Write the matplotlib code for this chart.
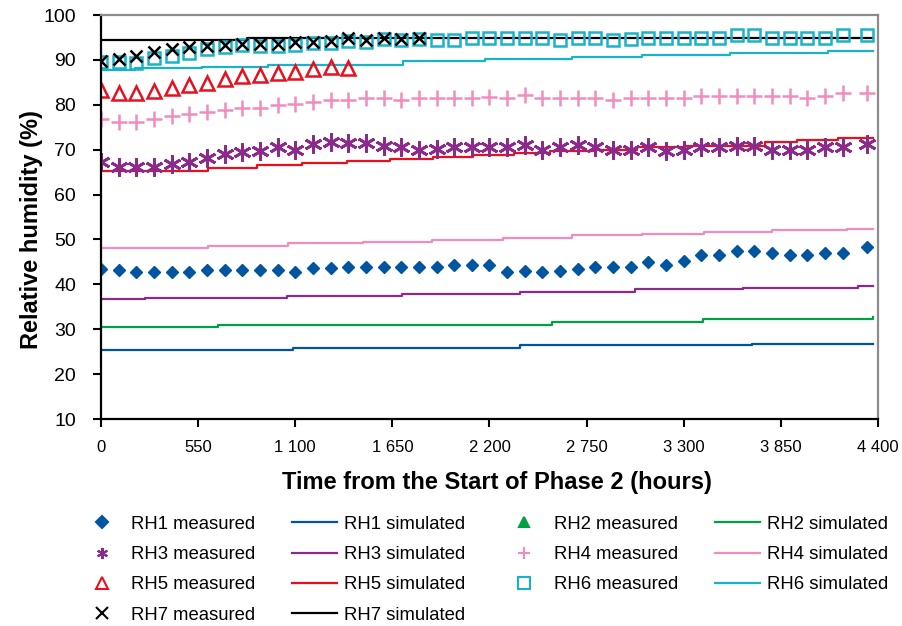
import matplotlib
matplotlib.use('Agg')
import matplotlib.pyplot as plt
from matplotlib.lines import Line2D

plt.rcParams['font.family'] = ['Liberation Sans', 'DejaVu Sans']

# measured readings (hours, % RH)
t_meas = [0, 100, 200, 300, 400, 500, 600, 700, 800, 900, 1000, 1100, 1200, 1300,
          1400, 1500, 1600, 1700, 1800, 1900, 2000, 2100, 2200, 2300, 2400, 2500,
          2600, 2700, 2800, 2900, 3000, 3100, 3200, 3300, 3400, 3500, 3600, 3700,
          3800, 3900, 4000, 4100, 4200, 4340]
rh1_meas = [43.5, 43.2, 42.7, 42.7, 42.7, 42.7, 43.2, 43.2, 43.2, 43.2, 43.2, 42.7, 43.6, 43.6,
            43.9, 43.9, 43.9, 43.9, 43.9, 43.9, 44.3, 44.3, 44.4, 42.7, 42.9, 42.7,
            42.9, 43.5, 43.9, 43.9, 43.9, 44.9, 44.4, 45.3, 46.5, 46.5, 47.4, 47.4,
            46.9, 46.5, 46.5, 47.0, 47.0, 48.3]
rh2_meas = []
rh3_meas = [67.3, 66.2, 66.2, 66.2, 66.75, 67.3, 68.1, 69.0, 69.4, 69.7, 70.5, 69.95, 71.2, 71.65,
            71.4, 71.4, 70.9, 70.5, 69.95, 70.2, 70.5, 70.5, 70.5, 70.5, 71.05, 69.95,
            70.5, 71.05, 70.5, 69.95, 69.95, 70.5, 69.6, 69.95, 70.5, 70.5, 70.9, 70.9,
            69.95, 69.95, 69.95, 70.5, 70.5, 71.2]
rh4_meas = [76.8, 76.25, 76.25, 76.8, 77.4, 77.9, 78.3, 78.85, 79.2, 79.2, 80.0, 80.2, 80.7, 81.1,
            81.1, 81.6, 81.6, 81.1, 81.6, 81.6, 81.6, 81.6, 81.7, 81.6, 82.2, 81.6,
            81.6, 81.6, 81.6, 81.1, 81.6, 81.6, 81.6, 81.6, 82.0, 82.0, 82.0, 82.0,
            82.0, 82.0, 81.6, 82.0, 82.6, 82.6]
rh5_meas = [83.2, 82.6, 82.6, 83.1, 83.7, 84.4, 84.8, 85.75, 86.3, 86.6, 87.0, 87.4, 88.0, 88.5,
            88.3]
rh6_meas = [89.6, 89.6, 89.2, 90.4, 90.9, 91.5, 92.4, 92.9, 93.3, 93.2, 93.2, 93.4, 93.7, 93.7,
            94.2, 93.9, 94.7, 94.4, 94.6, 94.4, 94.4, 94.95, 94.95, 94.95, 94.95, 94.95,
            94.4, 94.95, 94.95, 94.4, 94.6, 94.95, 94.95, 94.95, 94.95, 94.95, 95.5, 95.5,
            94.95, 94.95, 94.95, 94.95, 95.5, 95.5]
rh7_meas = [89.8, 90.1, 90.9, 91.8, 92.4, 92.8, 93.2, 93.3, 93.5, 93.5, 93.5, 94.0, 93.9, 94.1,
            94.8, 94.4, 94.8, 94.6, 94.8]

# simulated (step changes: hours, % RH)
rh1_sim_t = [0, 1090, 2370, 3685, 4370]
rh1_sim = [25.4, 25.9, 26.4, 26.8, 26.8]
rh2_sim_t = [0, 663, 2552, 3407, 4330, 4370]
rh2_sim = [30.6, 31.0, 31.5, 32.3, 32.3, 32.8]
rh3_sim_t = [0, 250, 1051, 1702, 2372, 3023, 3636, 4287, 4370]
rh3_sim = [36.7, 37.0, 37.45, 37.9, 38.4, 38.9, 39.2, 39.7, 39.7]
rh4_sim_t = [0, 606, 1059, 1484, 1873, 2277, 2666, 3064, 3414, 3797, 4222, 4370]
rh4_sim = [48.2, 48.6, 49.2, 49.5, 49.9, 50.4, 50.9, 51.3, 51.6, 52.0, 52.4, 52.4]
rh5_sim_t = [0, 606, 881, 1136, 1391, 1637, 1882, 2105, 2340, 2543, 2787, 3034, 3300, 3760,
             3940, 4174, 4370]
rh5_sim = [65.3, 66.0, 66.6, 67.0, 67.4, 67.9, 68.45, 68.75, 69.2, 69.7, 69.95, 70.5, 70.9, 71.8,
           72.2, 72.7, 72.7]
rh6_sim_t = [0, 192, 570, 946, 1710, 2174, 2666, 3062, 3562, 4119, 4370]
rh6_sim = [87.8, 88.1, 88.5, 88.9, 89.7, 90.3, 90.7, 91.1, 91.6, 92.0, 92.0]
rh7_sim_t = [0, 825, 4370]
rh7_sim = [94.4, 94.9, 94.9]

c1, c2, c3, c4 = '#0055a0', '#00a046', '#8c2a8c', '#f08cbe'
c5, c6, c7 = '#e8101e', '#1ab2c8', 'black'

fig = plt.figure(figsize=(9.03, 6.26), dpi=100)
ax = fig.add_axes([101/903, 1-419/626, 777/903, 404/626])

lw = 1.6
s1, = ax.plot(rh1_sim_t, rh1_sim, color=c1, lw=lw, drawstyle='steps-post')
s2, = ax.plot(rh2_sim_t, rh2_sim, color=c2, lw=lw, drawstyle='steps-post')
s3, = ax.plot(rh3_sim_t, rh3_sim, color=c3, lw=lw, drawstyle='steps-post')
s4, = ax.plot(rh4_sim_t, rh4_sim, color=c4, lw=lw, drawstyle='steps-post')
s5, = ax.plot(rh5_sim_t, rh5_sim, color=c5, lw=lw, drawstyle='steps-post')
s6, = ax.plot(rh6_sim_t, rh6_sim, color=c6, lw=lw, drawstyle='steps-post')
s7, = ax.plot(rh7_sim_t, rh7_sim, color=c7, lw=lw, drawstyle='steps-post')

m1, = ax.plot(t_meas, rh1_meas, ls='none', marker='D', ms=6.5, color=c1)
m2, = ax.plot(t_meas[:len(rh2_meas)], rh2_meas, ls='none', marker='^', ms=7, color=c2)
m3, = ax.plot(t_meas, rh3_meas, ls='none', marker=(6, 2, 0), ms=13, mew=2, color=c3)
m4, = ax.plot(t_meas, rh4_meas, ls='none', marker='+', ms=11, mew=1.8, color=c4)
m5, = ax.plot(t_meas[:len(rh5_meas)], rh5_meas, ls='none', marker='^', ms=10, mew=1.8,
              mfc='none', color=c5)
m6, = ax.plot(t_meas, rh6_meas, ls='none', marker='s', ms=9, mew=1.8, mfc='none', color=c6)
m7, = ax.plot(t_meas[:len(rh7_meas)], rh7_meas, ls='none', marker='x', ms=9, mew=1.8, color=c7)

ax.set_xlim(0, 4400)
ax.set_ylim(10, 100)
xt = [0, 550, 1100, 1650, 2200, 2750, 3300, 3850, 4400]
ax.set_xticks(xt)
ax.set_xticklabels([f'{v:,}'.replace(',', ' ') for v in xt])
ax.set_yticks(range(10, 101, 10))
ax.tick_params(axis='both', direction='out', length=6, width=1.5)
ax.tick_params(axis='y', pad=12, labelsize=14)
ax.tick_params(axis='x', pad=9, labelsize=12)

for side in ['left', 'bottom']:
    ax.spines[side].set_color('black')
    ax.spines[side].set_linewidth(1.6)
for side in ['top', 'right']:
    ax.spines[side].set_color('#8c8c8c')
    ax.spines[side].set_linewidth(1.6)

ax.set_xlabel('Time from the Start of Phase 2 (hours)', fontsize=17, fontweight='bold')
ax.set_ylabel('Relative humidity (%)', fontsize=17, fontweight='bold')
ax.xaxis.set_label_coords(0.509, -0.128)
ax.yaxis.set_label_coords(-0.075, 0.468)

handles = [m1, m3, m5, m7, s1, s3, s5, s7, m2, m4, m6, s2, s4, s6]
labels = ['RH1 measured', 'RH3 measured', 'RH5 measured', 'RH7 measured',
          'RH1 simulated', 'RH3 simulated', 'RH5 simulated', 'RH7 simulated',
          'RH2 measured', 'RH4 measured', 'RH6 measured',
          'RH2 simulated', 'RH4 simulated', 'RH6 simulated']
# smaller markers in the legend like the original
leg_h = []
for h in handles:
    lh = Line2D([], [], color=h.get_color(), ls=h.get_linestyle(), lw=h.get_linewidth(),
                marker=h.get_marker(), mfc=h.get_markerfacecolor(), mew=1.5,
                ms=min(h.get_markersize(), 8))
    leg_h.append(lh)
fig.legend(leg_h, labels, ncol=4, loc='upper left', bbox_to_anchor=(0.088, 0.176),
           frameon=False, fontsize=13.3, handlelength=2.4, handletextpad=0.4,
           columnspacing=2.0, labelspacing=0.72, borderpad=0, borderaxespad=0)

fig.savefig('out.png', dpi=100)
